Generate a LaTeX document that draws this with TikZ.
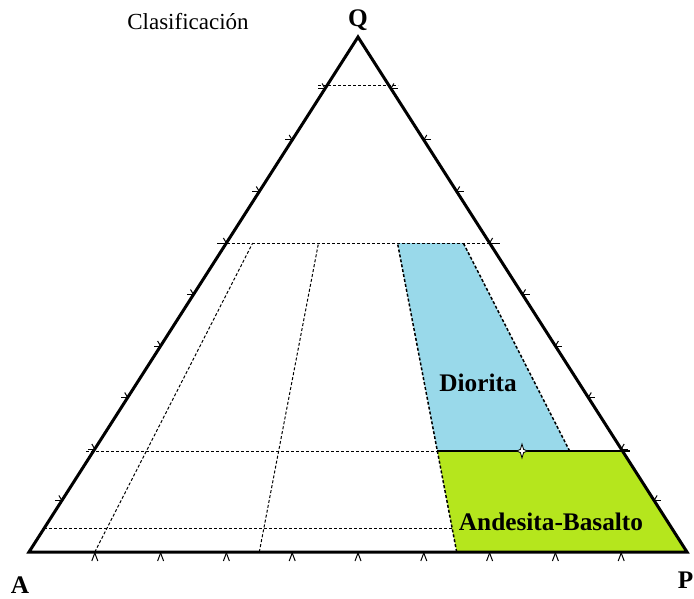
\documentclass[tikz,border=0pt]{standalone}
\usepackage{fontspec}
\setmainfont{Liberation Serif}
\usetikzlibrary{calc}
\definecolor{dioblue}{HTML}{99D9EA}
\definecolor{andgreen}{HTML}{B5E61D}
\tikzset{
  tri/.style={line width=3pt, line join=miter},
  dl/.style={dash pattern=on 3pt off 2pt, line width=1pt},
  dlb/.style={dash pattern=on 3pt off 2pt, line width=1.5pt},
  tk/.style={line width=1pt},
  lab/.style={font=\fontsize{25.3}{25.3}\selectfont\bfseries, inner sep=0pt},
  plain/.style={font=\fontsize{23}{23}\selectfont, inner sep=0pt}
}
\begin{document}
\begin{tikzpicture}[x=1pt,y=-1pt]
\useasboundingbox (0,0) rectangle (694,599);
% vertices
\coordinate (A) at (29,552);
\coordinate (P) at (687,552);
\coordinate (Q) at (358,37);
% region corners
\coordinate (d1) at (397.5,243);
\coordinate (d2) at (463.3,243);
\coordinate (d3) at (569.6,451);
\coordinate (d4) at (437.3,451);
\coordinate (g2) at (622.5,451);
\coordinate (g4) at (456.7,552);
% fills
\fill[dioblue] (d1) -- (d2) -- (d3) -- (d4) -- cycle;
\fill[andgreen] (d4) -- (g2) -- (P) -- (g4) -- cycle;
% horizontal dashed lines
\coordinate (h1a) at (318,86);   \coordinate (h1b) at (398,86);
\coordinate (h2a) at (217,243);  \coordinate (h2b) at (500,243);
\coordinate (h3a) at (86,451);
\coordinate (h3c) at (630,451);
\coordinate (h4a) at (44.3,528); \coordinate (h4b) at (452.1,528);
\draw[dl] (h1a) -- (h1b);
\draw[dl] (h2a) -- (h2b);
\draw[dl] (h3a) -- (d4);
\draw[line width=1.4pt] (d4) -- (h3c);
\draw[dl] (h4a) -- (h4b);
% radial dashed lines
\coordinate (r1b) at (94.8,552);  \coordinate (r1t) at (252.7,243);
\coordinate (r2b) at (259.3,552); \coordinate (r2t) at (318.5,243);
\draw[dl] (r1b) -- (r1t);
\draw[dl] (r2b) -- (r2t);
\draw[dlb] (g4) -- (d1);
\draw[dlb] (d3) -- (d2);
% triangle
\draw[tri] (A) -- (P) -- (Q) -- cycle;
% ticks
\foreach \k in {1,...,9}{
  \coordinate (L\k) at ({29+32.9*\k},{552-51.5*\k});
  \coordinate (R\k) at ({687-32.9*\k},{552-51.5*\k});
  \coordinate (B\k) at ({29+65.8*\k},553);
  \draw[tk] (L\k) -- ++(-7,0);
  \draw[tk] (L\k) -- ++(-3,-5);
  \draw[tk] (R\k) -- ++(7,0);
  \draw[tk] (R\k) -- ++(3,-5);
  \draw[tk] (B\k) -- ++(-3,8);
  \draw[tk] (B\k) -- ++(3,8);
}
% marker
\coordinate (m) at (522,451);
\begin{scope}[shift={(m)}]
\filldraw[fill=white, line width=0.8pt] (0,-7) -- (1.6,-1.6) -- (5.5,0) -- (1.6,1.6) -- (0,7) -- (-1.6,1.6) -- (-5.5,0) -- (-1.6,-1.6) -- cycle;
\end{scope}
% labels
\node[plain] (title) at (188,22) {Clasificación};
\node[lab] (qlab) at (358,20) {Q};
\node[lab] (alab) at (20,585) {A};
\node[lab, anchor=east] (plab) at (693.5,580) {P};
\node[lab] (dio) at (478,383) {Diorita};
\node[lab] (andb) at (551,522) {Andesita-Basalto};
\end{tikzpicture}
\end{document}
